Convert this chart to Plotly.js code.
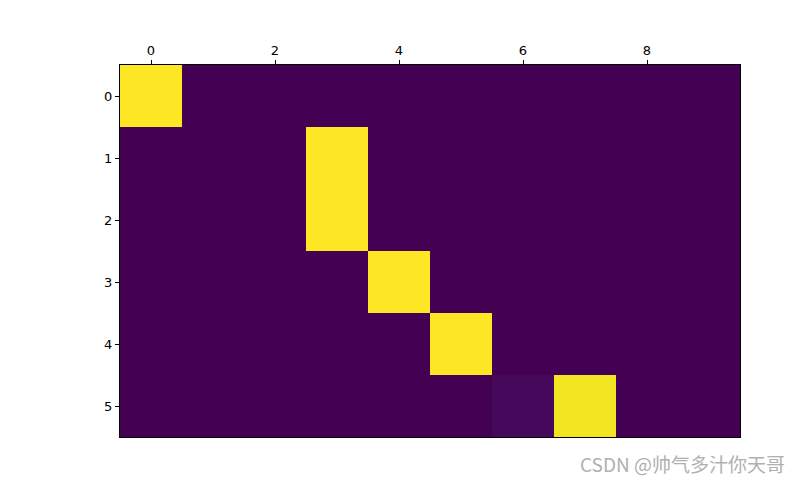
<!DOCTYPE html>
<html>
<head>
<meta charset="utf-8">
<script src="https://cdn.plot.ly/plotly-3.0.1.min.js"></script>
<style>body{margin:0;background:#fff;}#chart{width:800px;height:480px;}</style>
</head>
<body>
<div id="chart"></div>
<script>
const colIdx = [0,1,2,3,4,5,6,7,8,9];
const rowIdx = [0,1,2,3,4,5];
const row0 = [1,0,0,0,0,0,0,0,0,0];
const row1 = [0,0,0,1,0,0,0,0,0,0];
const row2 = [0,0,0,1,0,0,0,0,0,0];
const row3 = [0,0,0,0,1,0,0,0,0,0];
const row4 = [0,0,0,0,0,1,0,0,0,0];
const row5 = [0,0,0,0,0,0,0.02,0.983,0,0];
const xTicks = [0,2,4,6,8];
const yTicks = [0,1,2,3,4,5];
const watermark = "CSDN @帅气多汁你天哥";

const trace = {
  type: 'heatmap',
  x: colIdx,
  y: rowIdx,
  z: [row0,row1,row2,row3,row4,row5],
  colorscale: 'Viridis',
  zmin: 0, zmax: 1,
  showscale: false,
  hoverinfo: 'skip'
};
const axisCommon = {
  showgrid: false, zeroline: false,
  showline: true, linecolor: '#000', linewidth: 1, mirror: true,
  ticks: 'outside', ticklen: 4, tickcolor: '#000', tickwidth: 1,
  tickfont: {family: 'DejaVu Sans', size: 13, color: '#000'}
};
const layout = {
  width: 800, height: 480,
  margin: {l: 120, r: 60, t: 65, b: 43},
  paper_bgcolor: '#fff', plot_bgcolor: '#fff',
  xaxis: Object.assign({}, axisCommon, {side: 'top', range: [-0.5, 9.5], tickmode: 'array', tickvals: xTicks, ticktext: xTicks.map(String)}),
  yaxis: Object.assign({}, axisCommon, {range: [5.5, -0.5], tickmode: 'array', tickvals: yTicks, ticktext: yTicks.map(String)}),
  annotations: [{
    text: watermark, xref: 'paper', yref: 'paper', x: 1.075, y: -0.07,
    xanchor: 'right', yanchor: 'middle', showarrow: false,
    font: {family: 'Noto Sans CJK SC', size: 19, color: '#b0b0b0'}
  }]
};
Plotly.newPlot('chart', [trace], layout, {displayModeBar: false, staticPlot: true});
</script>
</body>
</html>
